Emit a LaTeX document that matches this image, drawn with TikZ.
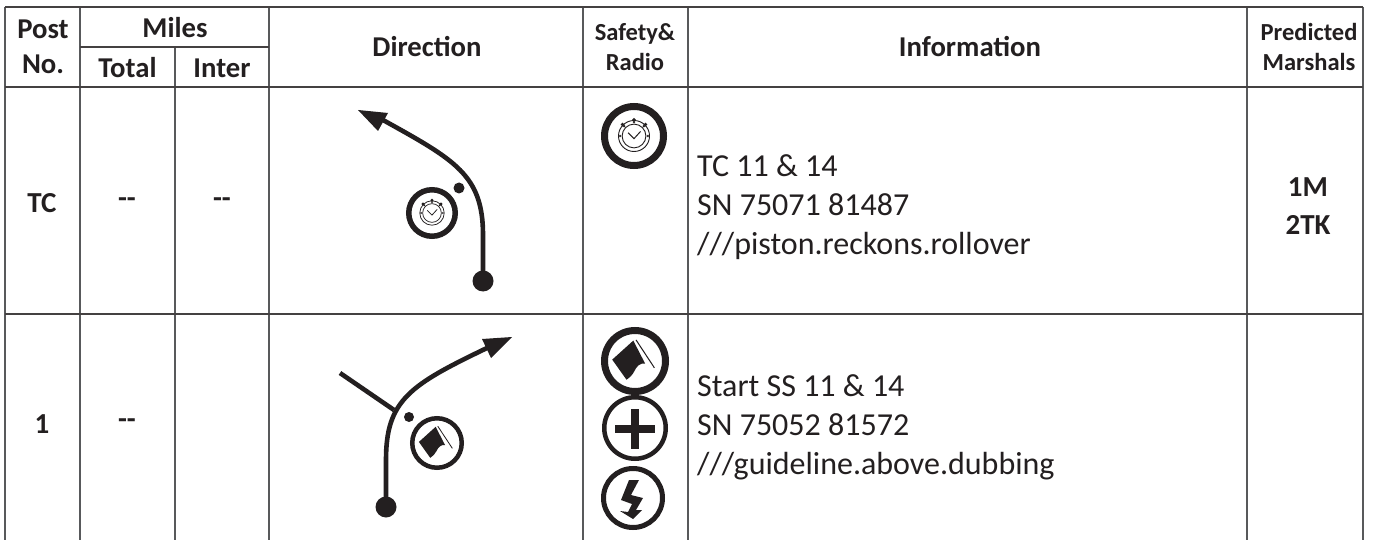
\documentclass[tikz,border=0pt]{standalone}
\usepackage{fontspec}
\setmainfont{Carlito}
\definecolor{ink}{HTML}{231F20}
\definecolor{rule}{HTML}{58595B}
\tikzset{
  hd/.style={font=\bfseries\fontsize{28.7}{35}\selectfont,text=ink,align=center,inner sep=0pt},
  hs/.style={font=\bfseries\fontsize{24.5}{30}\selectfont,text=ink,align=center,inner sep=0pt},
  cell/.style={font=\bfseries\fontsize{29}{38.5}\selectfont,text=ink,align=center,inner sep=0pt},
  info/.style={font=\fontsize{32}{39}\selectfont,text=ink,align=left,anchor=west,inner sep=0pt},
  vrule/.style={draw=rule,line width=1.5pt},
  hrule/.style={draw=ink!85!white,line width=1.3pt},
  route/.style={draw=ink,line width=4.6pt},
  ring/.style={draw=ink,fill=white}
}
% #1 cx, #2 cy, #3 radius, #4 ring thickness
\newcommand{\ringat}[4]{\draw[ring,line width=#4pt] (#1,#2) circle ({#3-#4/2});}
\newcommand{\watchicon}[4]{%
  \ringat{#1}{#2}{#3}{#4}
  \begin{scope}[shift={(#1,#2)},scale=#3/100]
    \draw[ink,line width=#3*0.028pt] (0,0) circle (47);
    \draw[ink,line width=#3*0.028pt] (0,0) circle (36);
    \foreach \a in {0,180,225,270,315}
      \fill[ink] (\a:42) circle (4);
    \foreach \a in {45,90,135}
      \fill[ink] (\a:-49) circle (6);
    \draw[ink,line width=#3*0.03pt] (-18,-10) -- (0,8) -- (20,-14);
  \end{scope}}
\newcommand{\flagicon}[4]{%
  \ringat{#1}{#2}{#3}{#4}
  \begin{scope}[shift={(#1,#2)},scale=#3/100]
    \fill[ink] (-5,-60) -- (30,8)
      .. controls (15,5) and (5,15) .. (-2,30)
      .. controls (-8,42) and (-15,48) .. (-25,55)
      -- (-67,-4) -- cycle;
    \draw[ink,line width=#3*0.03pt] (3,-62) -- (57,20);
  \end{scope}}
\begin{document}
\begin{tikzpicture}[x=1pt,y=-1pt]
\useasboundingbox (0,0) rectangle (1373,540);
\fill[white] (0,0) rectangle (1373,540);
% grid
\foreach \x in {5,80,269,583,688,1247,1363}
  \draw[vrule] (\x,7) -- (\x,540);
\draw[vrule] (175,47) -- (175,540);
\draw[hrule] (5,7) -- (1363,7);
\draw[hrule] (80,47) -- (269,47);
\draw[hrule] (5,87) -- (1363,87);
\draw[hrule] (5,314) -- (1363,314);
% headers
\node[hd] (post) at (43,47) {Post\\No.};
\node[hd] (miles) at (175,28) {Miles};
\node[hd] (total) at (127.5,68) {Total};
\node[hd] (inter) at (222,68) {Inter};
\node[hd] (dir) at (427,47) {Direction};
\node[hd] (infoh) at (970,47) {Information};
\node[hs] (safety) at (635,47) {Safety\&\\Radio};
\node[hs] (pred) at (1309,47) {Predicted\\Marshals};
% row 1
\node[cell] (tc) at (42,203) {TC};
\node[cell] (tc1) at (127,203) {{-}{-}};
\node[cell] (tc2) at (222,203) {{-}{-}};
\node[info] (tci) at (697,207) {TC 11 \& 14\\SN 75071 81487\\///piston.reckons.rollover};
\node[cell] (tcm) at (1308,206) {1M\\2TK};
% row 2
\node[cell] (r1) at (42,424) {1};
\node[cell] (r1a) at (127,424) {{-}{-}};
\node[info] (r1i) at (697,427) {Start SS 11 \& 14\\SN 75052 81572\\///guideline.above.dubbing};
% route 1
\coordinate (a0) at (483,281);
\coordinate (a1) at (383,120);
\draw[route] (a0) -- (483,235) .. controls (483,175) and (455,160) .. (a1);
\fill[ink] (a0) circle (10.5);
\fill[ink] (358,110) -- (388,113) -- (378,131) -- cycle;
\fill[ink] (459,188) circle (5.5);
\watchicon{432}{213}{26}{5.5}
\watchicon{634}{136}{33}{7}
% route 2
\coordinate (b0) at (386,507);
\coordinate (b1) at (487,348);
\coordinate (b2) at (340,373);
\coordinate (b3) at (394,410);
\draw[route] (b0) -- (386,460) .. controls (386,400) and (410,385) .. (b1);
\draw[route] (b2) -- (b3);
\fill[ink] (b0) circle (10.5);
\fill[ink] (512,337) -- (482,339) -- (491,358) -- cycle;
\fill[ink] (409,417) circle (5);
\flagicon{437}{443}{27}{4.5}
\flagicon{635}{361}{34}{7}
% plus
\ringat{635}{428}{33}{4.5}
\fill[ink] (631,409) rectangle (639,449);
\fill[ink] (615,425) rectangle (655,433);
% bolt
\ringat{633}{498}{32}{5}
\fill[ink] (629,480) -- (639,480) -- (631,495) -- (643,498) -- (636,510) -- (642,510) -- (633,519) -- (620,511) -- (628,512) -- (632,504) -- (621,500) -- cycle;
\end{tikzpicture}
\end{document}
